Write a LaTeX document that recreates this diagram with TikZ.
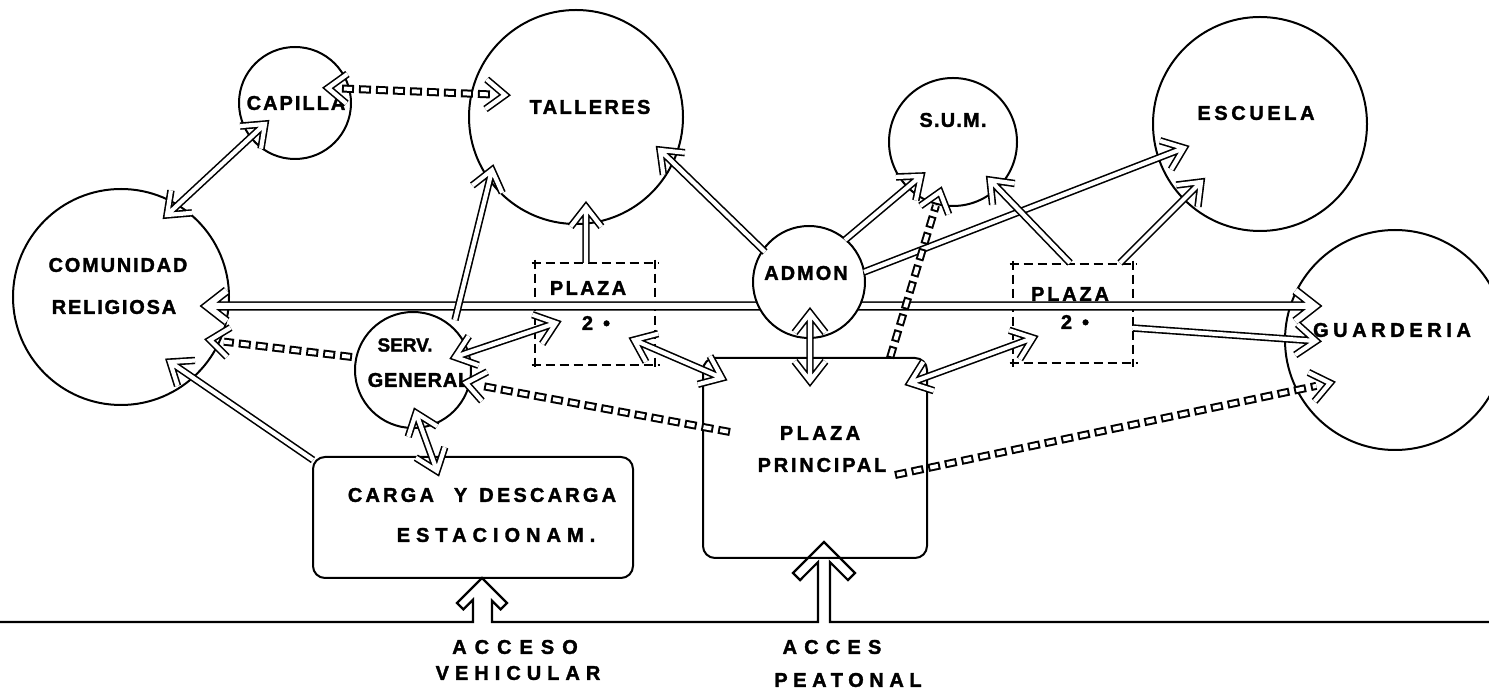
\documentclass[tikz,border=0pt]{standalone}
\usepackage{fontspec}
\setmainfont{Liberation Sans}
\usetikzlibrary{calc}
\tikzset{
  circ/.style={circle, draw, line width=1pt, inner sep=0pt},
  lbl/.style={font=\bfseries\fontsize{10}{12}\selectfont\addfontfeature{LetterSpace=#1,FakeBold=1.6}, inner sep=0pt},
  lbl/.default=12,
  hol/.style={draw, line width=0.8pt, double=white, double distance=2.1pt, line join=miter, miter limit=6},
  holw/.style={double distance=3pt},
  dsh/.style={draw, line width=4pt, dash pattern=on 6pt off 2.5pt,
     postaction={draw, white, line width=2pt, dash pattern=on 4pt off 4.5pt, dash phase=7.5pt}},
  dbox/.style={draw, line width=1pt, dash pattern=on 4.5pt off 2.5pt},
  rbox/.style={draw, line width=1pt, rounded corners=6pt, inner sep=0pt},
  area/.style={inner sep=0pt},
}
\newcommand\hA[3][]{%
  \path (#2) coordinate (cs) (#3) coordinate (ce);
  \draw[hol,#1] (cs) -- (ce) ($(ce)!12.5pt!38:(cs)$) -- (ce) -- ($(ce)!12.5pt!-38:(cs)$);}
\newcommand\hB[3][]{%
  \path (#2) coordinate (cs) (#3) coordinate (ce);
  \draw[hol,#1] (cs) -- (ce) ($(ce)!12.5pt!38:(cs)$) -- (ce) -- ($(ce)!12.5pt!-38:(cs)$)
     ($(cs)!12.5pt!38:(ce)$) -- (cs) -- ($(cs)!12.5pt!-38:(ce)$);}
\newcommand\dA[2]{%
  \path (#1) coordinate (cs) (#2) coordinate (ce);
  \draw[dsh] (cs) -- ($(ce)!7pt!(cs)$);
  \draw[hol] ($(ce)!12pt!38:(cs)$) -- (ce) -- ($(ce)!12pt!-38:(cs)$);}
\newcommand\dB[2]{%
  \path (#1) coordinate (cs) (#2) coordinate (ce);
  \draw[dsh] ($(cs)!7pt!(ce)$) -- ($(ce)!7pt!(cs)$);
  \draw[hol] ($(ce)!12pt!38:(cs)$) -- (ce) -- ($(ce)!12pt!-38:(cs)$);
  \draw[hol] ($(cs)!12pt!38:(ce)$) -- (cs) -- ($(cs)!12pt!-38:(ce)$);}
\begin{document}
\begin{tikzpicture}[x=0.5pt, y=-0.5pt]
\useasboundingbox (0,0) rectangle (1489,694);
% circles
\node[circ, minimum size=56pt] (cap) at (295,103) {};
\node[circ, minimum size=107pt] (tal) at (576,117) {};
\node[circ, minimum size=64pt] (sum) at (953,142) {};
\node[circ, minimum size=107pt] (esc) at (1260,124) {};
\node[circ, minimum size=108pt] (com) at (121,297) {};
\node[circ, minimum size=110pt] (gua) at (1395,340) {};
\node[circ, minimum size=58pt] (srv) at (413,370) {};
% boxes
\node[area, minimum width=60pt, minimum height=51pt] (pl1) at (595,314) {};
\node[area, minimum width=60pt, minimum height=49.5pt] (pl2) at (1073,313.5) {};
\node[rbox, minimum width=112pt, minimum height=100pt] (pp) at (815,458) {};
\node[rbox, minimum width=160pt, minimum height=60.5pt] (cd) at (473,517.5) {};
\foreach \b in {pl1,pl2}{
  \draw[dbox] ($(\b.north west)+(-3,0)$) -- ($(\b.north east)+(4,0)$);
  \draw[dbox] ($(\b.south west)+(-3,0)$) -- ($(\b.south east)+(5,0)$);
  \draw[dbox] ($(\b.north west)+(0,-3)$) -- ($(\b.south west)+(0,4)$);
  \draw[dbox] ($(\b.north east)+(0,-3)$) -- ($(\b.south east)+(0,4)$);
}
% labels
\node[lbl=10] (tcap) at (296,103) {CAPILLA};
\node[lbl=12] (ttal) at (590,107) {TALLERES};
\node[lbl=6] (tsum) at (953,120) {S.U.M.};
\node[lbl=18] (tesc) at (1256,113) {ESCUELA};
\node[lbl=9] (tcom1) at (118,265) {COMUNIDAD};
\node[lbl=9] (tcom2) at (114,307) {RELIGIOSA};
\node[lbl=12] (tpl1a) at (588,288) {PLAZA};
\node[lbl=12] (tpl1b) at (596,323) {2\enspace•};
\node[lbl=14] (tpl2a) at (1070,294) {PLAZA};
\node[lbl=12] (tpl2b) at (1075,322) {2\enspace•};
\node[lbl=0, font=\bfseries\fontsize{9.5}{12}\selectfont\addfontfeature{FakeBold=1.6}] (tsrv1) at (405,345) {SERV.};
\node[lbl=4] (tsrv2) at (419,380) {GENERAL};
\node[lbl=17] (tpp1) at (820,433) {PLAZA};
\node[lbl=14] (tpp2) at (822,465) {PRINCIPAL};
\node[lbl=16] (tcd1) at (482,495) {CARGA\hspace{10pt}Y\hspace{6pt}DESCARGA};
\node[lbl=30] (tcd2) at (496,535) {ESTACIONAM.};
\node[lbl=23] (tgua) at (1392,330) {GUARDERIA};
\node[lbl=40] (tac1) at (515,647) {ACCESO};
\node[lbl=30] (tac2) at (518,673) {VEHICULAR};
\node[lbl=36] (tap1) at (832,647) {ACCES};
\node[lbl=28] (tap2) at (848,680) {PEATONAL};
% ground line with access arrows
\draw[line width=1.1pt, line join=miter] (0,622) -- (473,622) -- (473,599.7) -- (463.4,609.4) -- (457,603)
  -- (482,578) -- (507,603) -- (500.6,609.4) -- (492,600.7) -- (492,622) -- (818,622)
  -- (818,562.1) -- (800.1,580.1) -- (793,573) -- (824,542) -- (855,573) -- (847.9,580.1)
  -- (830,562.1) -- (830,622) -- (1489,622);
% main horizontal axis
\hB[holw]{$(com.center)+(86,9)$}{$(gua.center)+(-80,-34)$}
% ADMON on top of the axis
\node[circ, fill=white, minimum size=56pt] (adm) at (809,282) {};
\node[lbl=10] (tadm) at (806,273) {ADMON};
% connectors
\hB{$(com.center)+(46,-82)$}{$(cap.center)+(-30,21)$}
\dB{$(cap.center)+(33,-15)$}{$(tal.center)+(-71,-22)$}
\dA{$(srv.center)+(-61,-13)$}{$(com.center)+(89,43)$}
\hA{$(cd.center)+(-160,-57.5)$}{$(com.center)+(49,65)$}
\hA{$(srv.center)+(42,-50)$}{$(tal.center)+(-84,53)$}
\hA{$(pl1.center)+(-9,-51)$}{$(tal.center)+(10,90)$}
\hB{$(srv.center)+(42,-13)$}{$(pl1.center)+(-39,9)$}
\hB{$(srv.center)+(3,43)$}{$(cd.center)+(-36,-46.5)$}
\dA{$(pp.center)+(-85,-26)$}{$(srv.center)+(53,13)$}
\hB{$(pl1.center)+(39,26)$}{$(pp.center)+(-93,-80)$}
\hB{$(adm.center)+(1,31)$}{$(pp.center)+(-5,-77)$}
\hA{$(adm.center)+(-44,-30)$}{$(tal.center)+(84,33)$}
\hA{$(adm.center)+(36,-42)$}{$(sum.center)+(-32,34)$}
\hA{$(adm.center)+(55,-10)$}{$(esc.center)+(-76,24)$}
\dA{$(pp.center)+(75,-100)$}{$(sum.center)+(-13,50)$}
\hA{$(pl2.center)+(-3,-50.5)$}{$(sum.center)+(37,38)$}
\hA{$(pl2.center)+(47,-50.5)$}{$(esc.center)+(-59,58)$}
\hB{$(pp.center)+(95,-75)$}{$(pl2.center)+(-40,24.5)$}
\hA{$(pl2.center)+(60,14.5)$}{$(gua.center)+(-79,1)$}
\dA{$(pp.center)+(80,17)$}{$(gua.center)+(-65,43)$}
\end{tikzpicture}
\end{document}
